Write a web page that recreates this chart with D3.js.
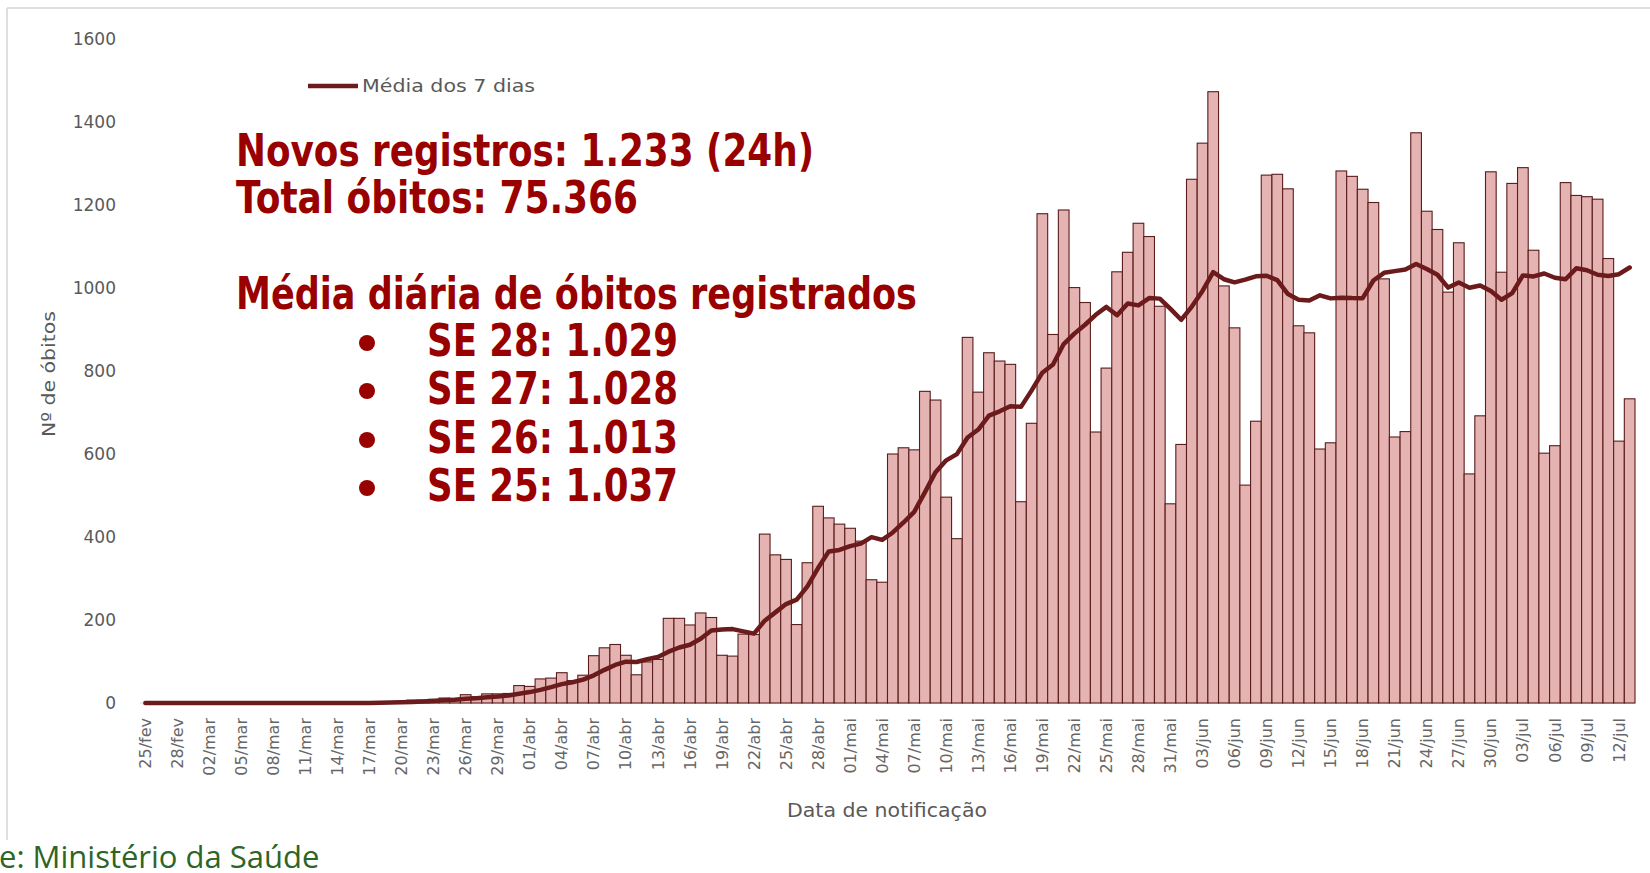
<!DOCTYPE html>
<html>
<head>
<meta charset="utf-8">
<script src="https://cdn.jsdelivr.net/npm/d3@7"></script>
<style>
  body { margin: 0; background: #fff; }
  svg { display: block; }
</style>
</head>
<body>
<div id="chart"></div>
<script>
// Data: óbitos por data de notificação (25/fev a 13/jul)
const dates = [
  "25/fev","26/fev","27/fev","28/fev","29/fev",
  "01/mar","02/mar","03/mar","04/mar","05/mar","06/mar","07/mar","08/mar","09/mar","10/mar",
  "11/mar","12/mar","13/mar","14/mar","15/mar","16/mar","17/mar","18/mar","19/mar","20/mar",
  "21/mar","22/mar","23/mar","24/mar","25/mar","26/mar","27/mar","28/mar","29/mar","30/mar","31/mar",
  "01/abr","02/abr","03/abr","04/abr","05/abr","06/abr","07/abr","08/abr","09/abr","10/abr",
  "11/abr","12/abr","13/abr","14/abr","15/abr","16/abr","17/abr","18/abr","19/abr","20/abr",
  "21/abr","22/abr","23/abr","24/abr","25/abr","26/abr","27/abr","28/abr","29/abr","30/abr",
  "01/mai","02/mai","03/mai","04/mai","05/mai","06/mai","07/mai","08/mai","09/mai","10/mai",
  "11/mai","12/mai","13/mai","14/mai","15/mai","16/mai","17/mai","18/mai","19/mai","20/mai",
  "21/mai","22/mai","23/mai","24/mai","25/mai","26/mai","27/mai","28/mai","29/mai","30/mai","31/mai",
  "01/jun","02/jun","03/jun","04/jun","05/jun","06/jun","07/jun","08/jun","09/jun","10/jun",
  "11/jun","12/jun","13/jun","14/jun","15/jun","16/jun","17/jun","18/jun","19/jun","20/jun",
  "21/jun","22/jun","23/jun","24/jun","25/jun","26/jun","27/jun","28/jun","29/jun","30/jun",
  "01/jul","02/jul","03/jul","04/jul","05/jul","06/jul","07/jul","08/jul","09/jul","10/jul",
  "11/jul","12/jul","13/jul"
];

const deaths = [
  0, 0, 0, 0, 0,
  0, 0, 0, 0, 0, 0, 0, 0, 0, 0,
  0, 0, 0, 0, 0, 0, 1, 3, 3, 4,
  7, 7, 9, 12, 11, 20, 15, 22, 22, 23, 42,
  40, 58, 60, 73, 54, 67, 114, 133, 141, 115,
  68, 99, 105, 204, 204, 188, 217, 206, 115, 113,
  166, 165, 407, 357, 346, 189, 338, 474, 446, 431,
  421, 390, 297, 291, 600, 615, 610, 751, 730, 496,
  396, 881, 749, 844, 824, 816, 485, 674, 1179, 888,
  1188, 1001, 965, 653, 807, 1039, 1086, 1156, 1124, 956, 480,
  623, 1262, 1349, 1473, 1005, 904, 525, 679, 1272, 1274,
  1239, 909, 892, 612, 627, 1282, 1269, 1238, 1206, 1022,
  641, 654, 1374, 1185, 1141, 990, 1109, 552, 692, 1280,
  1038, 1252, 1290, 1091, 602, 620, 1254, 1223, 1220, 1214,
  1071, 631, 733
];

// Média dos 7 dias
const avg7 = [
  0, 0, 0, 0, 0,
  0, 0, 0, 0, 0, 0, 0, 0, 0, 0,
  0, 0, 0, 0, 0, 0, 0.1, 0.6, 1.0, 1.6,
  2.6, 3.6, 4.9, 6.4, 7.6, 10.0, 11.6, 13.7, 15.9, 17.9, 22.1,
  26.3, 31.7, 38.1, 45.4, 50.0, 56.3, 66.6, 79.9, 91.7, 99.6,
  98.9, 105.3, 110.7, 123.6, 133.7, 140.4, 155.0, 174.7, 177.0, 178.1,
  172.7, 167.1, 198.4, 218.4, 238.4, 249.0, 281.1, 325.1, 365.3, 368.7,
  377.9, 384.1, 399.6, 392.9, 410.9, 435.0, 460.6, 507.7, 556.3, 584.7,
  599.7, 639.9, 659.0, 692.4, 702.9, 715.1, 713.6, 753.3, 795.9, 815.7,
  864.9, 890.1, 911.4, 935.4, 954.4, 934.4, 962.7, 958.1, 975.7, 974.4, 949.7,
  923.4, 955.3, 992.9, 1038.1, 1021.1, 1013.7, 1020.1, 1028.1, 1029.6, 1018.9,
  985.4, 971.7, 970.0, 982.4, 975.0, 976.4, 975.7, 975.6, 1018.0, 1036.6,
  1040.7, 1044.6, 1057.7, 1045.7, 1031.9, 1001.0, 1013.4, 1000.7, 1006.1, 992.7,
  971.7, 987.6, 1030.4, 1027.9, 1035.0, 1024.7, 1021.0, 1047.4, 1042.9, 1032.0,
  1029.1, 1033.3, 1049.4
];

const yTicks = [0, 200, 400, 600, 800, 1000, 1200, 1400, 1600];

const headLines = ["Novos registros: 1.233 (24h)", "Total óbitos: 75.366"];
const subHead = "Média diária de óbitos registrados";
const weekLines = ["SE 28: 1.029", "SE 27: 1.028", "SE 26: 1.013", "SE 25: 1.037"];

const W = 1650, H = 873;
const svg = d3.select("#chart").append("svg")
    .attr("width", W)
    .attr("height", H);

// frame lines
svg.append("line")
    .attr("x1", 7).attr("x2", W).attr("y1", 8).attr("y2", 8)
    .attr("stroke", "#d4d4d4").attr("stroke-width", 1.5);
svg.append("line")
    .attr("x1", 7).attr("x2", 7).attr("y1", 8).attr("y2", 840)
    .attr("stroke", "#d4d4d4").attr("stroke-width", 1.5);

// scales
const x = d3.scaleBand()
    .domain(dates)
    .range([140, 1635])
    .padding(0);

const y = d3.scaleLinear()
    .domain([0, 1600])
    .range([703, 39]);

// y axis
const yAxis = svg.append("g")
    .attr("transform", "translate(124,0)")
    .call(d3.axisLeft(y)
        .tickValues(yTicks)
        .tickFormat(d3.format("d"))
        .tickSize(0)
        .tickPadding(8));
yAxis.select(".domain").remove();
yAxis.selectAll("text")
    .style("font-family", "DejaVu Sans")
    .style("font-size", "17px")
    .attr("fill", "#595959");

// baseline
svg.append("line")
    .attr("x1", 140).attr("x2", 1635)
    .attr("y1", y(0)).attr("y2", y(0))
    .attr("stroke", "#d9d9d9");

// bars
svg.selectAll(".bar")
    .data(deaths)
    .enter()
    .append("rect")
    .attr("class", "bar")
    .attr("x", (d, i) => x(dates[i]))
    .attr("width", x.bandwidth())
    .attr("y", d => y(d))
    .attr("height", d => y(0) - y(d))
    .attr("fill", "#e6b3b3")
    .attr("stroke", "#5a1c1c")
    .attr("stroke-width", 1.1);

// x axis
const xAxis = svg.append("g")
    .attr("transform", `translate(0,${y(0)})`)
    .call(d3.axisBottom(x)
        .tickValues(dates.filter((d, i) => i % 3 === 0))
        .tickSize(0));
xAxis.select(".domain").remove();
xAxis.selectAll("text")
    .attr("transform", "rotate(-90)")
    .attr("x", -15)
    .attr("y", 0)
    .attr("dy", "0.35em")
    .style("text-anchor", "end")
    .style("font-family", "DejaVu Sans")
    .style("font-size", "16px")
    .attr("fill", "#666");

// 7 day average line
const line = d3.line()
    .x((d, i) => x(dates[i]) + x.bandwidth() / 2)
    .y(d => y(d));

svg.append("path")
    .datum(avg7)
    .attr("d", line)
    .attr("fill", "none")
    .attr("stroke", "#6b1b1b")
    .attr("stroke-width", 4.5)
    .attr("stroke-linejoin", "round")
    .attr("stroke-linecap", "round");

// axis titles
svg.append("text")
    .attr("x", 887).attr("y", 817)
    .attr("text-anchor", "middle")
    .attr("textLength", 200)
    .attr("lengthAdjust", "spacingAndGlyphs")
    .style("font-family", "DejaVu Sans")
    .style("font-size", "19px")
    .attr("fill", "#595959")
    .text("Data de notificação");

svg.append("text")
    .attr("transform", "translate(55,374) rotate(-90)")
    .attr("text-anchor", "middle")
    .attr("textLength", 126)
    .attr("lengthAdjust", "spacingAndGlyphs")
    .style("font-family", "DejaVu Sans")
    .style("font-size", "18px")
    .attr("fill", "#595959")
    .text("Nº de óbitos");

// legend
svg.append("line")
    .attr("x1", 308).attr("x2", 358).attr("y1", 86).attr("y2", 86)
    .attr("stroke", "#6b1b1b").attr("stroke-width", 4.5);
svg.append("text")
    .attr("x", 362).attr("y", 92)
    .attr("textLength", 173)
    .attr("lengthAdjust", "spacingAndGlyphs")
    .style("font-family", "DejaVu Sans")
    .style("font-size", "17px")
    .attr("fill", "#595959")
    .text("Média dos 7 dias");

// annotation text
const red = "#990000";
function bigText(str, xPos, yPos, len) {
    svg.append("text")
        .attr("x", xPos).attr("y", yPos)
        .attr("textLength", len)
        .attr("lengthAdjust", "spacingAndGlyphs")
        .style("font-family", "DejaVu Sans")
        .style("font-weight", "bold")
        .style("font-size", "44px")
        .attr("fill", red)
        .text(str);
}

bigText(headLines[0], 236, 166, 578);
bigText(headLines[1], 236, 213, 402);
bigText(subHead, 236, 309, 681);

const weekY = [356, 404, 453, 501];
weekLines.forEach((s, i) => {
    svg.append("circle")
        .attr("cx", 367).attr("cy", weekY[i] - 13)
        .attr("r", 8)
        .attr("fill", red);
    bigText(s, 427, weekY[i], 251);
});

// source (cut at the left edge, as in the original slide)
const src = svg.append("text")
    .attr("y", 868)
    .style("font-family", "Open Sans")
    .style("font-size", "31px")
    .attr("fill", "#2e6525")
    .text("Fonte: Ministério da Saúde");
const cut = src.node().getSubStringLength(0, 4);
src.attr("x", -cut - 1);
</script>
</body>
</html>
